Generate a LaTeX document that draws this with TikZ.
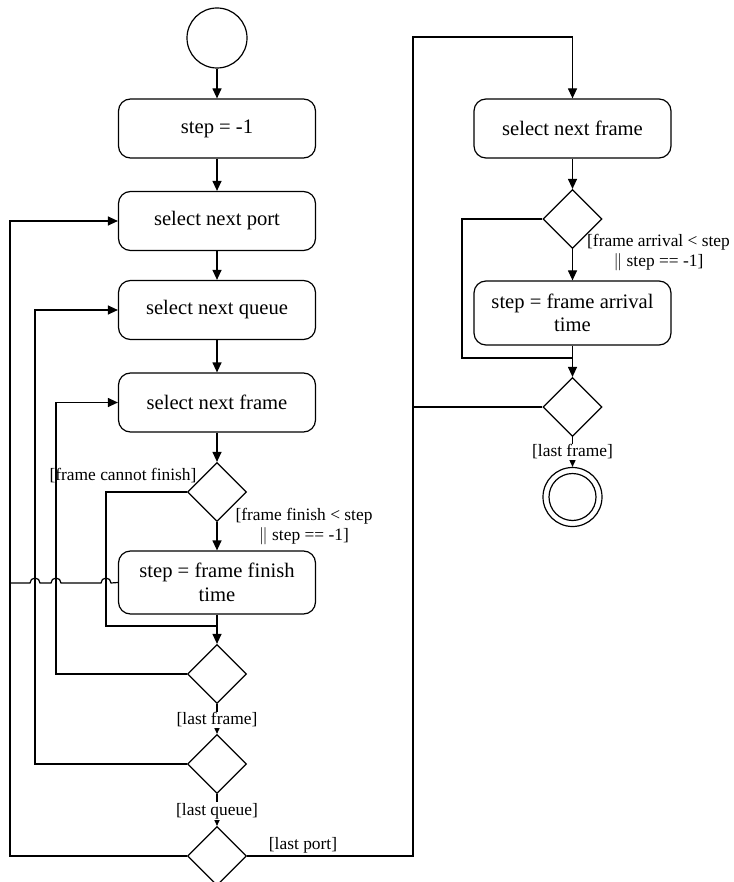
\documentclass[tikz,border=0pt]{standalone}
\usepackage{fontspec}
\setmainfont{Liberation Serif}
\usetikzlibrary{arrows.meta,shapes.geometric}
\begin{document}
\begin{tikzpicture}[x=1pt,y=-1pt,line width=1.2pt,
  box/.style={draw,rounded corners=12pt,minimum width=197pt,minimum height=59pt,align=center,font=\fontsize{20.6}{23.5}\selectfont,inner sep=2pt},
  dec/.style={draw,diamond,minimum width=59pt,minimum height=59pt,inner sep=0pt,aspect=1},
  lbl/.style={font=\fontsize{17.4}{20}\selectfont,inner sep=1pt,align=center},
  arr/.style={-{Triangle[length=10pt,width=9pt]}}]
\useasboundingbox (0,0) rectangle (733,882);
% left column
\node[draw,circle,minimum size=60pt,inner sep=0pt] (start) at (217,38) {};
\node[box] (b1) at (217,128.5) {step = -1};
\node[box] (b2) at (217,221) {select next port};
\node[box] (b3) at (217,310) {select next queue};
\node[box] (b4) at (217,402.5) {select next frame};
\node[dec] (d1) at (217,492) {};
\node[box,minimum height=63pt] (b5) at (217,582.5) {step = frame finish\\time};
\node[dec] (d2) at (217,674) {};
\node[dec] (d3) at (217,764) {};
\node[dec] (d4) at (217,856) {};
% right column
\node[box] (r1) at (572.5,128.5) {select next frame};
\node[dec] (rd1) at (572.5,219) {};
\node[box,minimum height=64pt] (r2) at (572.5,313) {step = frame arrival\\time};
\node[dec] (rd2) at (572.5,407) {};
\node[draw,circle,minimum size=59pt,inner sep=0pt] (endo) at (572.5,497) {};
\node[draw,circle,minimum size=47pt,inner sep=0pt] (endi) at (572.5,497) {};
% coordinates
\coordinate (m1) at (217,626);
\coordinate (m2) at (572.5,358);
\coordinate (j0) at (10,583);
\coordinate (top) at (572.5,37);
\coordinate (rx) at (413,407);
% main flow
\draw[arr] (start) -- (b1);
\draw[arr] (b1) -- (b2);
\draw[arr] (b2) -- (b3);
\draw[arr] (b3) -- (b4);
\draw[arr] (b4) -- (d1);
\draw[arr] (d1) -- (b5);
\draw[arr] (b5) -- (d2);
\draw (d1.west) -| (106,626) -- (m1);
\draw[arr] (d2) -- (d3);
\draw[arr] (d3) -- (d4);
% loops
\draw[arr] (d2.west) -| (56,402.5) -- (b4.west);
\draw[arr] (d3.west) -| (35,310) -- (b3.west);
\draw[arr] (d4.west) -| (10,221) -- (b2.west);
\draw (j0) -- (30,583) arc[start angle=180,end angle=0,radius=5pt]
  -- (51,583) arc[start angle=180,end angle=0,radius=5pt]
  -- (101,583) arc[start angle=180,end angle=0,radius=5pt]
  -- (b5.west);
% right side
\draw[arr] (d4.east) -| (413,37) -- (top) -- (r1.north);
\draw[arr] (r1) -- (rd1);
\draw[arr] (rd1) -- (r2);
\draw[arr] (r2) -- (rd2);
\draw (rd1.west) -| (462,358) -- (m2);
\draw (rd2.west) -- (rx);
\draw[arr] (rd2) -- (endo);
% labels
\node[lbl,fill=white] (l1) at (217,720) {[last frame]};
\node[lbl,fill=white] (l2) at (217,811) {[last queue]};
\node[lbl,fill=white] (l3) at (572.5,452) {[last frame]};
\node[lbl] (l4) at (303,845) {[last port]};
\node[lbl,anchor=east] (l5) at (198,476) {[frame cannot finish]};
\node[lbl] (l6) at (304,527) {[frame finish < step\\$\|$ step == -1]};
\node[lbl] (l7) at (658.5,253) {[frame arrival < step\\$\|$ step == -1]};
\end{tikzpicture}
\end{document}
